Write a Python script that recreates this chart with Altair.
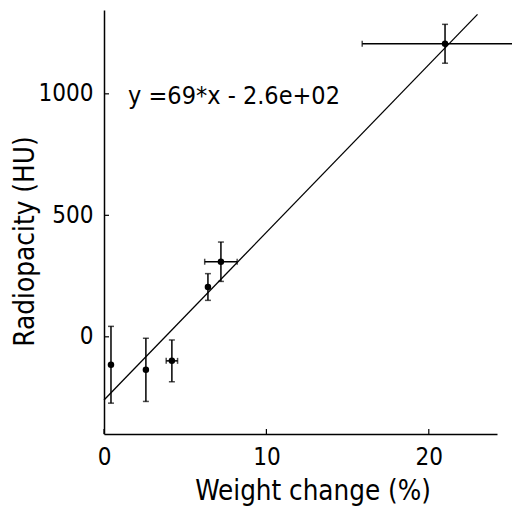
import altair as alt
import pandas as pd

# data
wx = [0.43, 2.58, 4.18, 6.4, 7.2, 21.0]
wx_err = [0.0, 0.0, 0.35, 0.0, 1.0, 5.1]
ry = [-115, -136, -99, 205, 309, 1206]
ry_err = [158, 130, 86, 55, 81, 80]
fit_x = [0, 23.0]
fit_y = [-260, 1327]
x_ticks = [0, 10, 20]
y_ticks = [0, 500, 1000]
eq_text = "y =69*x - 2.6e+02"

df = pd.DataFrame({"x": wx, "xe": wx_err, "y": ry, "ye": ry_err})
df["xlo"] = df.x - df.xe
df["xhi"] = df.x + df.xe
df["ylo"] = df.y - df.ye
df["yhi"] = df.y + df.ye
dfx = df[df.xe > 0]
fit = pd.DataFrame({"x": fit_x, "y": fit_y})

W, H = 393, 424
xs = alt.Scale(domain=[0, 24.2], nice=False, zero=False)
ys = alt.Scale(domain=[-400, 1345], nice=False, zero=False)
font = "DejaVu Sans Condensed"

xax = alt.Axis(values=x_ticks, tickSize=0, grid=False, labelFontSize=24, titleFontSize=27.5,
               labelFont=font, titleFont=font, labelColor="black", titleColor="black",
               titleFontWeight="normal", domainColor="black", domainWidth=1.5,
               labelPadding=11, labelFlush=False, titleX=208.5, titleY=43,
               format="d")
yax = alt.Axis(values=y_ticks, tickSize=0, grid=False, labelFontSize=24, titleFontSize=27.7,
               labelFont=font, titleFont=font, labelColor="black", titleColor="black",
               titleFontWeight="normal", domainColor="black", domainWidth=1.5,
               labelPadding=11, labelFlush=False, titleX=-65, titleY=231, format="d")

base = alt.Chart(df)
ax_layer = base.mark_point(opacity=0).encode(
    x=alt.X("x:Q", scale=xs, axis=xax, title="Weight change (%)"),
    y=alt.Y("y:Q", scale=ys, axis=yax, title="Radiopacity (HU)"),
)
fit_line = alt.Chart(fit).mark_line(color="black", strokeWidth=1.3).encode(
    x=alt.X("x:Q", scale=xs), y=alt.Y("y:Q", scale=ys))
vbars = base.mark_rule(color="black", strokeWidth=1.5).encode(
    x=alt.X("x:Q", scale=xs), y=alt.Y("ylo:Q", scale=ys), y2="yhi:Q")
vcap_lo = base.mark_tick(color="black", orient="horizontal", size=6, thickness=1.5).encode(
    x=alt.X("x:Q", scale=xs), y=alt.Y("ylo:Q", scale=ys))
vcap_hi = base.mark_tick(color="black", orient="horizontal", size=6, thickness=1.5).encode(
    x=alt.X("x:Q", scale=xs), y=alt.Y("yhi:Q", scale=ys))
hbars = alt.Chart(dfx).mark_rule(color="black", strokeWidth=1.5).encode(
    x=alt.X("xlo:Q", scale=xs), x2="xhi:Q", y=alt.Y("y:Q", scale=ys))
hcap_lo = alt.Chart(dfx).mark_tick(color="black", orient="vertical", size=6, thickness=1.5).encode(
    x=alt.X("xlo:Q", scale=xs), y=alt.Y("y:Q", scale=ys))
hcap_hi = alt.Chart(dfx).mark_tick(color="black", orient="vertical", size=6, thickness=1.5).encode(
    x=alt.X("xhi:Q", scale=xs), y=alt.Y("y:Q", scale=ys))
pts = base.mark_circle(color="black", size=42, opacity=1).encode(
    x=alt.X("x:Q", scale=xs), y=alt.Y("y:Q", scale=ys))
xt = alt.Chart(pd.DataFrame({"t": x_ticks})).mark_rule(color="black", strokeWidth=1.2).encode(
    x=alt.X("t:Q", scale=xs), y=alt.value(H), y2=alt.value(H - 5))
yt = alt.Chart(pd.DataFrame({"t": y_ticks})).mark_rule(color="black", strokeWidth=1.2).encode(
    y=alt.Y("t:Q", scale=ys), x=alt.value(0), x2=alt.value(5))
txt = alt.Chart(pd.DataFrame({"x": [1.48], "y": [990], "s": [eq_text]})).mark_text(
    align="left", baseline="middle", fontSize=25, font=font, color="black").encode(
    x=alt.X("x:Q", scale=xs), y=alt.Y("y:Q", scale=ys), text="s:N")

chart = alt.layer(ax_layer, fit_line, vbars, vcap_lo, vcap_hi, hbars, hcap_lo, hcap_hi,
                  pts, xt, yt, txt).properties(
    width=W, height=H,
    autosize=alt.AutoSizeParams(type="none"),
    padding={"left": 96, "top": 2, "right": 15, "bottom": 73},
).configure_view(stroke=None)

chart.save("out.html", embed_options={"renderer": "svg", "actions": False})
